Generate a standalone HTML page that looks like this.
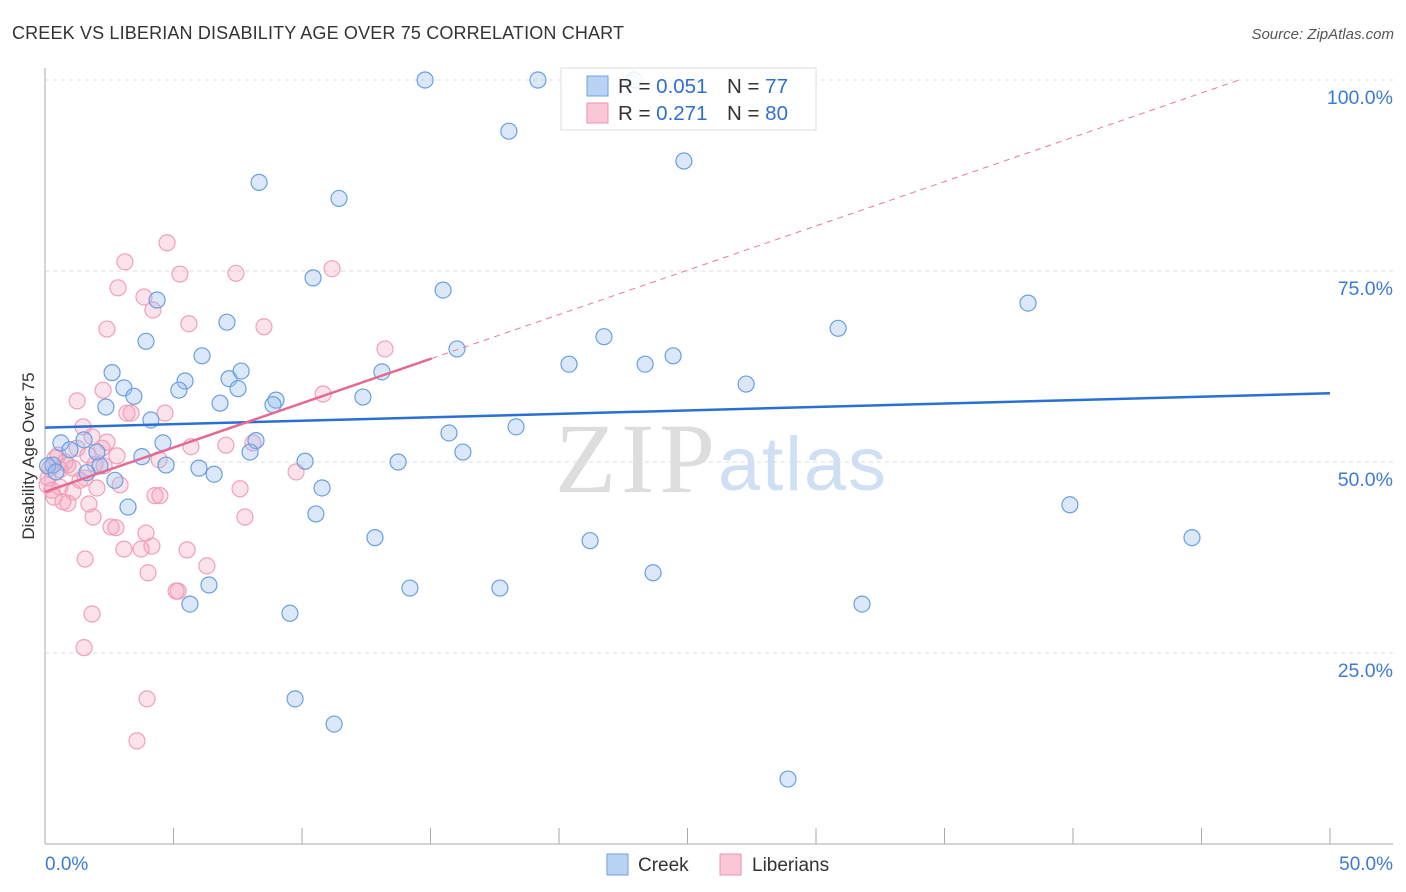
<!DOCTYPE html>
<html><head><meta charset="utf-8"><style>
body{margin:0;background:#fff;font-family:"Liberation Sans",sans-serif}
svg{display:block}
</style></head><body>
<svg id="chart" width="1406" height="892">
<text x="12" y="39" font-size="18" textLength="612" fill="#333">CREEK VS LIBERIAN DISABILITY AGE OVER 75 CORRELATION CHART</text>
<text x="1394" y="39" font-size="15" fill="#555" font-style="italic" text-anchor="end">Source: ZipAtlas.com</text>
<text transform="translate(34,456) rotate(-90)" font-size="17" fill="#333" text-anchor="middle">Disability Age Over 75</text>
<g>
<text x="555" y="492" font-size="100" textLength="160" font-family="Liberation Serif,serif" fill="#ddd">ZIP</text>
<text x="718" y="490" font-size="76" textLength="168" fill="#cfe0f5">atlas</text>
</g>
<g id="grid"></g>
<g id="axes"></g>
<g id="marks"></g>
<g>
<rect x="561" y="68" width="255" height="62" fill="#fff" fill-opacity="0.85" stroke="#ddd"/>
<rect x="587" y="76" width="21" height="20" fill="#b9d3f5" stroke="#6e9fe0"/>
<rect x="587" y="103" width="21" height="20" fill="#fac7d6" stroke="#ee93ae"/>
<text x="618" y="93" font-size="20.5" fill="#333">R = <tspan fill="#2f6fd0">0.051</tspan><tspan x="727">N = </tspan><tspan fill="#2f6fd0"> 77</tspan></text>
<text x="618" y="120" font-size="20.5" fill="#333">R = <tspan fill="#2f6fd0"> 0.271</tspan><tspan x="727">N = </tspan><tspan fill="#2f6fd0">80</tspan></text>
</g>
<g>
<rect x="607" y="854" width="21" height="21" fill="#b9d3f5" stroke="#6e9fe0"/>
<text x="638" y="871" font-size="19" fill="#333">Creek</text>
<rect x="720" y="854" width="21" height="21" fill="#fac7d6" stroke="#ee93ae"/>
<text x="752" y="871" font-size="19" fill="#333">Liberians</text>
</g>
</svg>
<script>
const yTicks=[25,50,75,100];
const yTickLabels=["25.0%","50.0%","75.0%","100.0%"];
const xTickVals=[0,5,10,15,20,25,30,35,40,45,50];
const creekX=[14.79,19.18,22.92,18.05,24.86,8.33,11.44,10.43,15.49,4.36,7.08,3.93,21.75,30.86,38.25,16.03,6.11,2.61,5.45,3.07,5.21,7.16,7.63,7.51,13.11,20.39,23.35,24.44,27.28,3.46,2.37,6.81,8.99,8.87,12.37,4.12,18.33,15.72,0.62,1.52,4.59,8.21,7.98,16.26,3.77,4.71,5.99,6.58,10.12,13.74,2.14,0.97,2.02,1.63,2.72,0.31,0.1,0.43,10.78,3.23,10.54,12.84,21.21,39.88,44.63,23.66,6.38,5.64,14.2,17.7,9.53,31.79,9.73,11.25,28.91];
const creekY=[100,100,100,93.3,89.4,86.6,84.5,74.1,72.5,71.2,68.3,65.8,66.4,67.5,70.8,64.8,63.9,61.7,60.6,59.7,59.4,60.9,61.9,59.6,61.8,62.8,62.8,63.9,60.2,58.6,57.2,57.7,58.1,57.5,58.5,55.5,54.6,53.8,52.5,52.9,52.5,52.8,51.3,51.3,50.7,49.6,49.2,48.4,50.1,50.0,49.5,51.6,51.3,48.6,47.6,49.6,49.5,48.7,46.6,44.1,43.2,40.1,39.7,44.4,40.1,35.5,33.9,31.4,33.5,33.5,30.2,31.4,19.0,15.7,8.5];
const libX=[4.75,3.11,5.25,7.43,11.17,2.84,3.85,4.2,5.6,8.52,2.41,13.23,2.26,1.25,10.82,3.19,3.35,4.67,1.48,1.83,2.41,5.68,7.04,8.09,2.8,0.78,1.09,1.95,2.3,4.44,9.77,0.39,0.58,0.12,1.56,2.02,2.92,1.09,7.59,4.28,4.47,0.35,0.7,0.89,1.71,1.87,7.78,2.57,2.76,3.93,3.07,4.16,3.74,5.53,1.56,4.01,6.3,5.1,5.18,1.83,1.52,3.97,3.58,0.08,0.27,0.58,1.36,0.89,1.67,1.25,2.22,0.19,0.51];
const libY=[78.7,76.2,74.6,74.7,75.3,72.8,71.6,69.9,68.1,67.7,67.4,64.8,59.4,58.0,58.9,56.4,56.4,56.4,54.6,53.3,52.6,52.0,52.2,52.5,50.8,50.0,49.2,49.7,49.5,50.3,48.7,50.5,49.0,47.9,47.9,46.6,47.0,46.1,46.5,45.6,45.6,45.4,44.8,44.6,44.5,42.8,42.8,41.5,41.4,40.7,38.6,39.0,38.6,38.5,37.3,35.5,36.4,33.1,33.1,30.1,25.7,19.0,13.5,47.0,46.3,46.7,47.6,49.6,50.9,51.8,51.8,49.2,50.9];
const creekTrend=[54.5,59.0];      // y at x=0 and x=50
const libTrend=[46.1,1.16];       // intercept, slope
const libSolidEnd=15.05;

const NS="http://www.w3.org/2000/svg";
const X=v=>45+v/50*1285;
const Y=v=>844-v/100*764;
function mk(tag,attrs,parent){const e=document.createElementNS(NS,tag);for(const k in attrs)e.setAttribute(k,attrs[k]);parent.appendChild(e);return e;}
const grid=document.getElementById('grid'),axes=document.getElementById('axes'),marks=document.getElementById('marks');
yTicks.forEach((t,i)=>{
 const l=mk('line',{x1:45,x2:1393,y1:Y(t),y2:Y(t),stroke:'#ddd','stroke-dasharray':'4,4'},grid);
 
 
 const tx=mk('text',{x:1393,y:Y(t)+24,'font-size':19.5,fill:'#3d7ad6','text-anchor':'end'},axes);
 tx.textContent=yTickLabels[i];
 
 
});
const la=mk('line',{x1:45,x2:45,y1:68,y2:844,stroke:'#aaa'},axes);


const lb=mk('line',{x1:45,x2:1393,y1:844,y2:844,stroke:'#aaa'},axes);


xTickVals.forEach(v=>{
 const t=mk('line',{x1:X(v),x2:X(v),y1:828,y2:844,stroke:'#aaa'},axes);
 
 
});
const x0=mk('text',{x:45,y:870,'font-size':19,fill:'#3d7ad6'},axes);x0.textContent='0.0%';


const x1=mk('text',{x:1393,y:870,'font-size':19,fill:'#3d7ad6','text-anchor':'end'},axes);x1.textContent='50.0%';



libX.forEach((v,i)=>{
 const c=mk('circle',{cx:X(v),cy:Y(libY[i]),r:8,fill:'rgba(246,160,186,0.3)',stroke:'#f0a0b8','stroke-width':1.2},marks);
 
 
});
creekX.forEach((v,i)=>{
 const c=mk('circle',{cx:X(v),cy:Y(creekY[i]),r:8,fill:'rgba(150,190,240,0.35)',stroke:'#6a9fe2','stroke-width':1.2},marks);
 
 
});
const tb=mk('line',{x1:X(0),y1:Y(creekTrend[0]),x2:X(50),y2:Y(creekTrend[1]),stroke:'#2a6fd4','stroke-width':2.5},marks);


const xEnd=(100-libTrend[0])/libTrend[1];
const td=mk('line',{x1:X(libSolidEnd),y1:Y(libTrend[0]+libTrend[1]*libSolidEnd),x2:X(xEnd),y2:Y(100),stroke:'#e8789b','stroke-width':1,'stroke-dasharray':'6,5'},marks);


const tp=mk('line',{x1:X(0),y1:Y(libTrend[0]),x2:X(libSolidEnd),y2:Y(libTrend[0]+libTrend[1]*libSolidEnd),stroke:'#e56a93','stroke-width':2.5},marks);


</script>
</body></html>
